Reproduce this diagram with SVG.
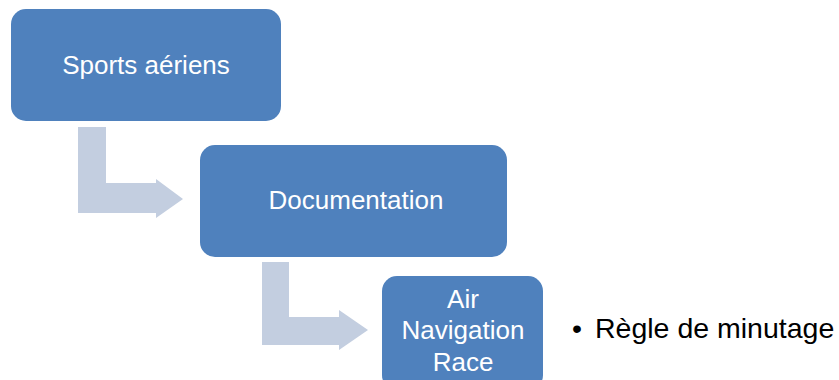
<svg xmlns="http://www.w3.org/2000/svg" width="839" height="380" viewBox="0 0 839 380">
<style>
.box{fill:#4F81BD;}
.arr{fill:#C3CEE0;}
.lbl{font-family:"Liberation Sans",Arial,sans-serif;fill:#FFFFFF;text-anchor:middle;font-size:26px;}
.bul{font-family:"Liberation Sans",Arial,sans-serif;fill:#000000;font-size:28.5px;}
</style>
<rect width="839" height="380" fill="#FFFFFF"/>
<g id="connectors">
<path class="arr" d="M78,127 H106 V183 H156 V179 L183,199 L156,218 V213 H78 Z"/>
<path class="arr" d="M262,262 H289 V317 H339 V310 L368,330 L339,350 V345 H262 Z"/>
</g>
<g id="node-sports">
<rect class="box" x="11" y="9" width="270" height="112" rx="15"/>
<text class="lbl" x="146" y="74">Sports aériens</text>
</g>
<g id="node-documentation">
<rect class="box" x="200" y="145" width="307" height="112" rx="15"/>
<text class="lbl" x="356" y="209">Documentation</text>
</g>
<g id="node-anr">
<rect class="box" x="382" y="276" width="161" height="114" rx="15"/>
<text class="lbl" x="463" y="308">Air</text>
<text class="lbl" x="463" y="339">Navigation</text>
<text class="lbl" x="463" y="371">Race</text>
</g>
<g id="bullet">
<text class="bul" x="572" y="338">•</text>
<text class="bul" x="595" y="338">Règle de minutage</text>
</g>
</svg>
